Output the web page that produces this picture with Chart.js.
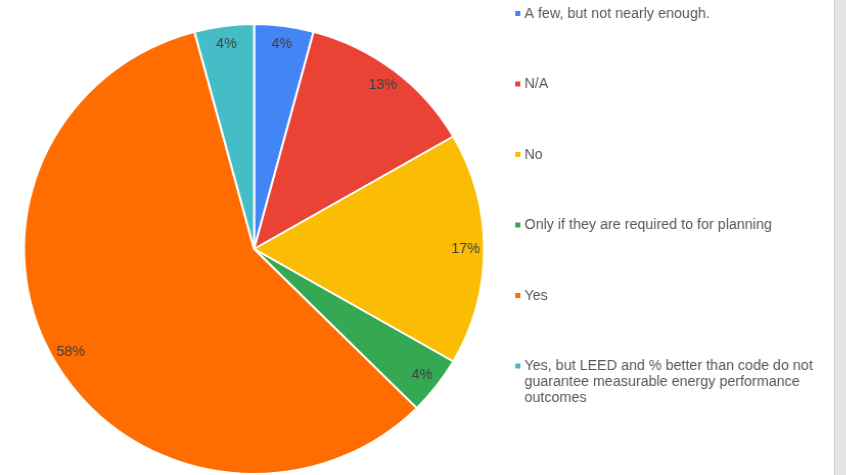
<!DOCTYPE html>
<html>
<head>
<meta charset="utf-8">
<script src="https://cdn.jsdelivr.net/npm/chart.js@4.4.1/dist/chart.umd.min.js"></script>
<style>
  html, body { margin: 0; padding: 0; background: #fff; }
  #wrap { position: relative; width: 846px; height: 475px; overflow: hidden; }
  /* the exported chart is a touch wider than tall */
  #pie { transform: scaleX(1.0223); transform-origin: 0 0; }
  #side { position: absolute; left: 834px; top: 0; width: 12px; height: 475px;
          background: #e4e4e4; border-left: 1px solid #d0d0d0; }
</style>
</head>
<body>
<div id="wrap">
  <canvas id="pie" width="846" height="475"></canvas>
  <div id="side"></div>
</div>
<script>
/* ======== Data ======== */
const answers = [
    'A few, but not nearly enough.',
    'N/A',
    'No',
    'Only if they are required to for planning',
    'Yes',
    'Yes, but LEED and % better than code do not guarantee measurable energy performance outcomes'
];
const responses = [1, 3, 4, 1, 14, 1];
const sliceColors = ['#4285f4', '#ea4335', '#fbbc04', '#34a853', '#ff6d01', '#46bdc6'];

const FONT = '14px "Liberation Sans", Arial, sans-serif';

/* ======== Percent labels on the slices ======== */
const sliceLabels = {
    id: 'sliceLabels',
    afterDatasetsDraw(chart) {
        const ctx = chart.ctx;
        const meta = chart.getDatasetMeta(0);
        const total = responses.reduce((a, b) => a + b, 0);
        ctx.save();
        ctx.font = FONT;
        ctx.fillStyle = '#404040';
        ctx.textAlign = 'center';
        ctx.textBaseline = 'middle';
        meta.data.forEach((arc, i) => {
            const mid = (arc.startAngle + arc.endAngle) / 2;
            const r = arc.outerRadius * 0.92;
            const pct = Math.round(responses[i] / total * 100) + '%';
            ctx.fillText(pct, arc.x + Math.cos(mid) * r, arc.y + Math.sin(mid) * r);
        });
        ctx.restore();
    }
};

/* ======== Legend on the right, wrapped text ======== */
const sideLegend = {
    id: 'sideLegend',
    afterDraw(chart) {
        const ctx = chart.ctx;
        const x0 = 504, y0 = 14, step = 70.5, lineH = 16, maxW = 290;
        ctx.save();
        ctx.font = FONT;
        ctx.textBaseline = 'middle';
        answers.forEach((label, i) => {
            const y = y0 + i * step;
            ctx.fillStyle = sliceColors[i];
            ctx.fillRect(x0, y - 3, 5, 5);
            // word wrap
            const words = label.split(' ');
            const lines = [];
            let cur = '';
            words.forEach(w => {
                const test = cur ? cur + ' ' + w : w;
                if (ctx.measureText(test).width > maxW && cur) { lines.push(cur); cur = w; }
                else cur = test;
            });
            lines.push(cur);
            ctx.fillStyle = '#575757';
            lines.forEach((ln, k) => ctx.fillText(ln, x0 + 9, y + k * lineH));
        });
        ctx.restore();
    }
};

new Chart(document.getElementById('pie'), {
    type: 'pie',
    data: {
        labels: answers,
        datasets: [{
            data: responses,
            backgroundColor: sliceColors,
            borderColor: '#ffffff',
            borderWidth: 2
        }]
    },
    options: {
        responsive: false,
        animation: false,
        layout: { padding: { left: 22.5, right: 371.5, top: 23, bottom: 0 } },
        plugins: { legend: { display: false }, tooltip: { enabled: false } }
    },
    plugins: [sliceLabels, sideLegend]
});
</script>
</body>
</html>
